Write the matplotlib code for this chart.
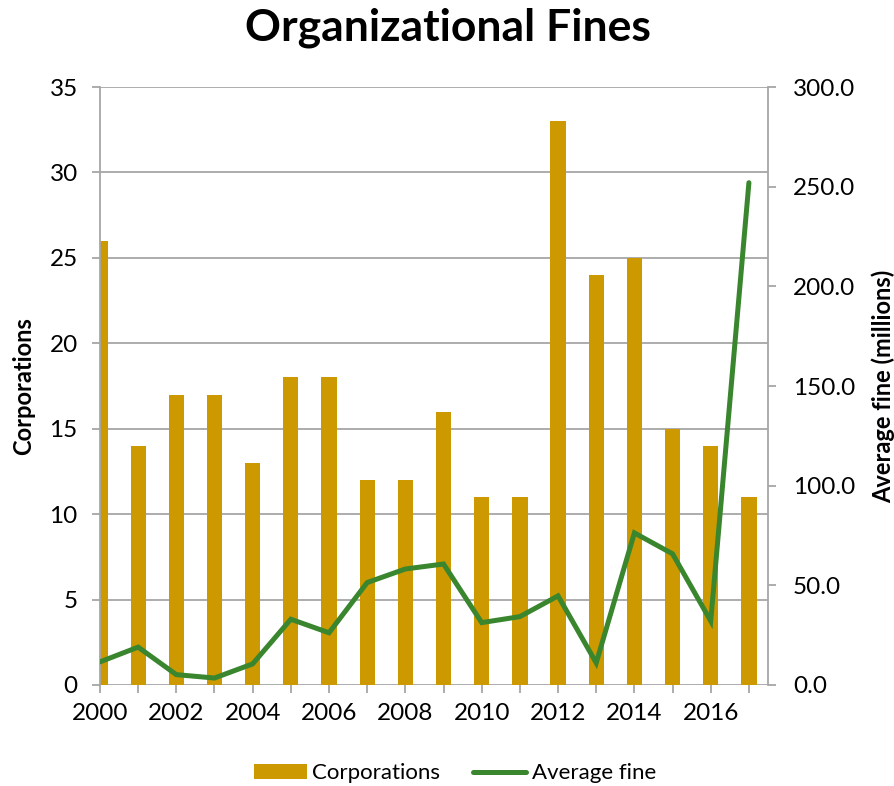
import matplotlib
matplotlib.use("Agg")
import matplotlib.pyplot as plt
from matplotlib.ticker import MultipleLocator, FixedLocator

plt.rcParams['font.family'] = ['Lato', 'DejaVu Sans']

years = list(range(2000, 2018))
corporations = [26, 14, 17, 17, 13, 18, 18, 12, 12, 16, 11, 11, 33, 24, 25, 15, 14, 11]
average_fine = [11.6, 19.0, 5.2, 3.5, 10.6, 33.0, 26.2, 51.4, 58.2, 60.7,
                31.3, 34.3, 44.7, 11.1, 76.3, 65.8, 32.1, 252.0]
year_labels = [str(y) if y % 2 == 0 else '' for y in years]

bar_color = '#CC9900'
line_color = '#3A862E'
grid_color = '#A6A6A6'

fig = plt.figure(figsize=(8.95, 7.86), dpi=100)
ax = fig.add_axes([0.1117, 0.1285, 0.7464, 0.7608])
ax2 = ax.twinx()

bars = ax.bar(years, corporations, width=0.4, color=bar_color, zorder=2, label='Corporations')
line, = ax2.plot(years, average_fine, color=line_color, linewidth=3.6,
                 solid_capstyle='round', solid_joinstyle='miter', label='Average fine')

ax.set_xlim(2000, 2017.5)
ax.set_ylim(0, 35)
ax2.set_ylim(0, 300)
ax.yaxis.set_major_locator(MultipleLocator(5))
ax2.yaxis.set_major_locator(MultipleLocator(50))
ax2.set_yticklabels(['%.1f' % v for v in ax2.get_yticks()])
ax.xaxis.set_major_locator(FixedLocator(years))
ax.set_xticklabels(year_labels)

ax.grid(axis='y', color=grid_color, linewidth=1.3, zorder=0)
ax.set_axisbelow(True)

for a in (ax, ax2):
    for s in a.spines.values():
        s.set_visible(False)
    a.tick_params(colors=grid_color, labelcolor='black', labelsize=17.5,
                  length=6, width=1.3)
ax.spines['left'].set_visible(True)
ax.spines['left'].set_color(grid_color)
ax.spines['left'].set_linewidth(1.3)
ax2.spines['right'].set_visible(True)
ax2.spines['right'].set_color(grid_color)
ax2.spines['right'].set_linewidth(1.3)
ax.tick_params(axis='x', pad=7)
ax.tick_params(axis='y', pad=10)
ax2.tick_params(axis='y', pad=12)

ax.set_ylabel('Corporations', fontsize=17, fontweight='bold', labelpad=10)
ax2.set_ylabel('Average fine (millions)', fontsize=17, fontweight='bold', labelpad=12)

fig.suptitle('Organizational Fines', fontsize=32, fontweight='bold', y=0.99)

# legend along the bottom, centred under the plot
fig.legend([bars, line], ['Corporations', 'Average fine'], loc='lower center',
           bbox_to_anchor=(0.508, -0.022), ncol=2, frameon=False, fontsize=16,
           handlelength=2.4, handleheight=0.6, handletextpad=0.25, columnspacing=1.45)

fig.savefig('out.png', dpi=100)
